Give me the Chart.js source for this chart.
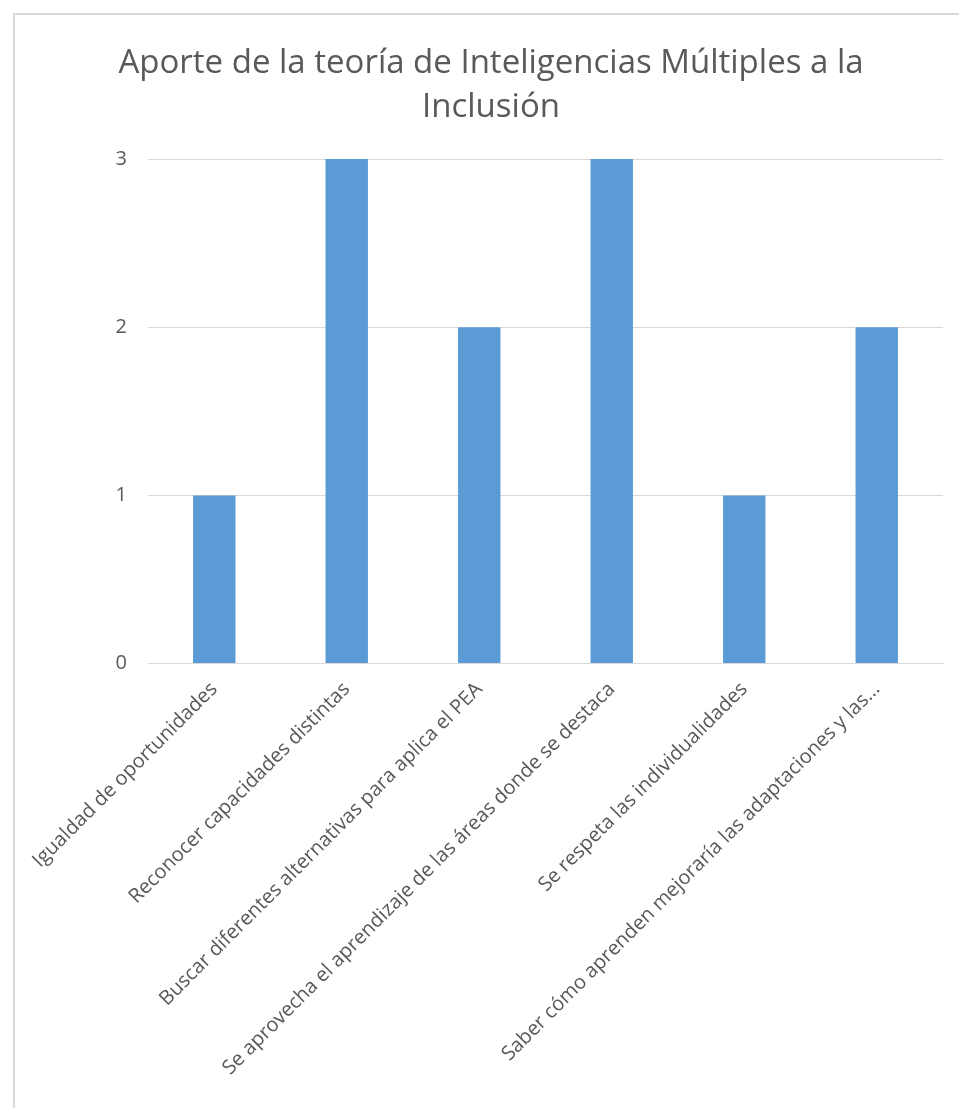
<!DOCTYPE html>
<html>
<head>
<meta charset="utf-8">
<script src="https://cdn.jsdelivr.net/npm/chart.js@4/dist/chart.umd.min.js"></script>
<style>
  html, body { margin: 0; padding: 0; background: #fff; }
  #frame {
    position: absolute; left: 13px; top: 13px;
    width: 944px; height: 1093px;
    border-left: 2px solid #d9d9d9; border-top: 2px solid #d9d9d9;
  }
</style>
</head>
<body>
<div id="frame"><canvas id="chart"></canvas></div>
<script>
  // Data
  const titleLines = ["Aporte de la teoría de Inteligencias Múltiples a la", "Inclusión"];
  const categories = [
    "Igualdad de oportunidades",
    "Reconocer capacidades distintas",
    "Buscar diferentes alternativas para aplica el PEA",
    "Se aprovecha el aprendizaje de las áreas donde se destaca",
    "Se respeta las individualidades",
    "Saber cómo aprenden mejoraría las adaptaciones y las..."
  ];
  const values = [1, 3, 2, 3, 1, 2];
  const yTicks = [0, 1, 2, 3];

  const gray = "#595959";
  const gridGray = "#d9d9d9";
  const fontFamily = "'Open Sans', sans-serif";

  new Chart(document.getElementById("chart").getContext("2d"), {
    type: "bar",
    data: {
      labels: categories,
      datasets: [{
        data: values,
        backgroundColor: "#5b9bd5",
        barPercentage: 0.32,
        categoryPercentage: 1.0
      }]
    },
    options: {
      responsive: true,
      maintainAspectRatio: false,
      animation: false,
      layout: { padding: { left: 24, right: 16, top: 0, bottom: 22 } },
      plugins: {
        legend: { display: false },
        tooltip: { enabled: false },
        title: {
          display: true,
          text: titleLines,
          color: gray,
          font: { family: fontFamily, size: 33, weight: "normal", lineHeight: 1.35 },
          padding: { top: 26, bottom: 29 }
        }
      },
      scales: {
        x: {
          grid: { display: false },
          border: { display: true, color: gridGray, width: 1 },
          ticks: {
            color: gray,
            font: { family: fontFamily, size: 20 },
            maxRotation: 45,
            minRotation: 45,
            autoSkip: false,
            padding: 6
          }
        },
        y: {
          min: 0,
          max: yTicks[yTicks.length - 1],
          afterBuildTicks: function (axis) {
            axis.ticks = yTicks.map(function (v) { return { value: v }; });
          },
          afterFit: function (axis) { axis.width = 109; },
          grid: { color: gridGray, drawTicks: false },
          border: { display: false },
          ticks: {
            color: gray,
            font: { family: fontFamily, size: 20 },
            padding: 21
          }
        }
      }
    }
  });
</script>
</body>
</html>
